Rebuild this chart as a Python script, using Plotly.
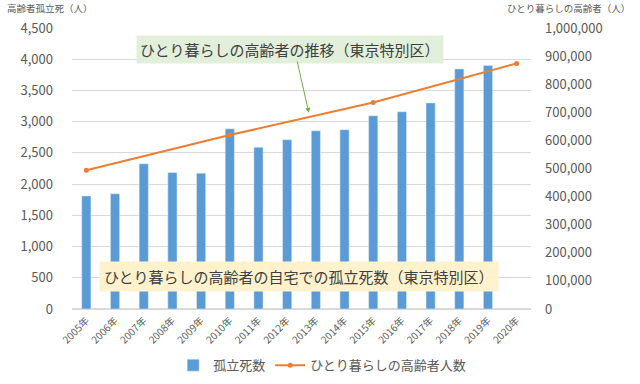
import plotly.graph_objects as go

years = ["2005年", "2006年", "2007年", "2008年", "2009年", "2010年", "2011年", "2012年",
         "2013年", "2014年", "2015年", "2016年", "2017年", "2018年", "2019年", "2020年"]
deaths = [1810, 1845, 2325, 2185, 2175, 2885, 2590, 2710, 2855, 2870, 3095, 3160, 3300, 3845, 3900, None]
alone_years = ["2005年", "2010年", "2015年", "2020年"]
alone_people = [494000, 619000, 735000, 874000]

FONT = "Noto Sans CJK JP"
GRAY = "#595959"

fig = go.Figure()
fig.add_trace(go.Bar(x=years, y=deaths, name="孤立死数", marker_color="#5B9BD5", yaxis="y"))
fig.add_trace(go.Scatter(x=alone_years, y=alone_people, name="ひとり暮らしの高齢者人数",
                         mode="lines+markers", line=dict(color="#ED7D31", width=2),
                         marker=dict(size=5, color="#ED7D31"), yaxis="y2"))

fig.update_layout(
    width=640, height=384,
    margin=dict(l=72, r=109, t=28, b=75, autoexpand=False),
    paper_bgcolor="white", plot_bgcolor="white",
    font=dict(family=FONT, color=GRAY, size=13),
    bargap=0.68,
    showlegend=True,
    legend=dict(orientation="h", x=0.545, xanchor="center", y=-0.2, yanchor="middle",
                font=dict(size=13, color=GRAY), itemwidth=30, tracegroupgap=0),
    xaxis=dict(type="category", categoryorder="array", categoryarray=years,
               range=[-0.5, 15.5], tickangle=-45, tickfont=dict(size=10, color=GRAY),
               showline=False, showgrid=False, ticks="", automargin=False, ticklabelstandoff=3),
    yaxis=dict(range=[0, 4500], dtick=500, tickformat=",", gridcolor="#D9D9D9",
               zeroline=True, zerolinecolor="#D9D9D9", tickfont=dict(size=13, color=GRAY),
               ticks="", ticklabelstandoff=18, automargin=False),
    yaxis2=dict(range=[0, 1000000], dtick=100000, tickformat=",", overlaying="y", side="right",
                showgrid=False, zeroline=False, tickfont=dict(size=13, color=GRAY),
                ticks="", ticklabelstandoff=13, automargin=False),
    annotations=[
        dict(text="高齢者孤立死（人）", xref="paper", yref="paper", x=-0.146, y=1.071,
             xanchor="left", yanchor="middle", showarrow=False, font=dict(size=9.5, color=GRAY)),
        dict(text="ひとり暮らしの高齢者（人）", xref="paper", yref="paper", x=1.22, y=1.071,
             xanchor="right", yanchor="middle", showarrow=False, font=dict(size=9.5, color=GRAY)),
        dict(text="ひとり暮らしの高齢者の推移（東京特別区）", xref="paper", yref="paper",
             x=0.476, y=0.923, xanchor="center", yanchor="middle", showarrow=False,
             bgcolor="#E2EFDA", borderpad=3, font=dict(size=15, color="#404040")),
        dict(text="ひとり暮らしの高齢者の自宅での孤立死数（東京特別区）", xref="paper", yref="paper",
             x=0.495, y=0.117, xanchor="center", yanchor="middle", showarrow=False,
             bgcolor="#FFF2CC", borderpad=4, font=dict(size=15, color="#404040")),
        dict(text="", xref="paper", yref="paper", x=0.516, y=0.698, showarrow=True,
             ax=-12, ay=-53, arrowcolor="#70AD47", arrowwidth=1, arrowhead=2, arrowsize=1),
    ],
)

fig.write_html("out.html", config={"displayModeBar": False},
               post_script="document.body.style.margin='0';")
